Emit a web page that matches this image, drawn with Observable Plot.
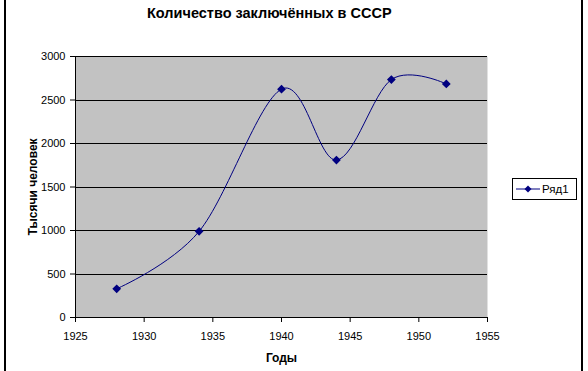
<!DOCTYPE html>
<html>
<head>
<meta charset="utf-8">
<script src="https://cdn.jsdelivr.net/npm/d3@7"></script>
<script src="https://cdn.jsdelivr.net/npm/@observablehq/plot@0.6"></script>
<style>
  html, body { margin: 0; padding: 0; background: #fff; }
  body { width: 588px; height: 371px; position: relative; overflow: hidden; font-family: "Liberation Sans", Arial, sans-serif; }
  #border { position: absolute; left: 4px; top: 0; width: 579px; height: 371px; border-left: 2px solid #000; border-right: 2px solid #000; box-sizing: border-box; pointer-events: none; }
  #title { position: absolute; left: 147px; top: 5px; width: 230px; text-align: center; white-space: nowrap; font-weight: bold; font-size: 14.5px; color: #000; }
  #chart { position: absolute; left: 0; top: 30px; }
  #legend { position: absolute; left: 512px; top: 178px; width: 65px; height: 22px; border: 1px solid #000; box-sizing: border-box; background: #fff; display: flex; align-items: center; font-size: 11.5px; }
  #legend svg { margin-left: 2px; margin-right: 1px; }
</style>
</head>
<body>
<div id="title">Количество заключённых в СССР</div>
<div id="chart"></div>
<div id="legend"><svg width="26" height="10"><line x1="1" y1="5" x2="25" y2="5" stroke="#000080" stroke-width="1"/><path d="M13,1.5L16.5,5L13,8.5L9.5,5Z" fill="#000080"/></svg><span>Ряд1</span></div>
<div id="border"></div>
<script>
const years = [1928, 1934, 1940, 1944, 1948, 1952];
const prisoners = [330, 990, 2625, 1810, 2735, 2685];
const xTicks = [1925, 1930, 1935, 1940, 1945, 1950, 1955];
const yTicks = [0, 500, 1000, 1500, 2000, 2500, 3000];
const seriesName = "Ряд1";

const data = years.map((y, i) => ({year: y, value: prisoners[i], series: seriesName}));

const navy = "#000080";
const chart = Plot.plot({
  width: 588,
  height: 341,
  marginLeft: 75,
  marginRight: 101,
  marginTop: 26,
  marginBottom: 54,
  style: {fontFamily: "'Liberation Sans', Arial, sans-serif", fontSize: "11px", color: "#000", background: "transparent"},
  x: {domain: [1925, 1955]},
  y: {domain: [0, 3000]},
  marks: [
    Plot.frame({fill: "url(#dots)", stroke: null}),
    Plot.ruleY(yTicks.slice(1), {stroke: "#000", strokeWidth: 1, shapeRendering: "crispEdges"}),
    Plot.ruleY([0], {stroke: "#000", strokeWidth: 1, shapeRendering: "crispEdges"}),
    Plot.ruleX([1925], {stroke: "#000", strokeWidth: 1, shapeRendering: "crispEdges"}),
    Plot.axisX({ticks: xTicks, tickFormat: d => String(d), tickSize: 5, tickPadding: 10, label: "Годы", labelAnchor: "center", labelArrow: "none", labelOffset: 44, fontSize: 11}),
    Plot.axisY({ticks: yTicks, tickFormat: d => String(d), tickSize: 5, tickPadding: 5, label: "Тысячи человек", labelAnchor: "center", labelArrow: "none", labelOffset: 47, fontSize: 11}),
    Plot.line(data, {x: "year", y: "value", curve: "cardinal", stroke: navy, strokeWidth: 1}),
    Plot.dot(data, {x: "year", y: "value", symbol: "diamond2", fill: navy, stroke: navy, r: 3})
  ]
});

// dotted grey pattern for the plot area
const ns = "http://www.w3.org/2000/svg";
const defs = document.createElementNS(ns, "defs");
defs.innerHTML = '<pattern id="dots" width="2" height="2" patternUnits="userSpaceOnUse"><rect width="2" height="2" fill="#cfcfcf"/><rect width="1" height="1" fill="#9c9c9c"/></pattern>';
chart.insertBefore(defs, chart.firstChild);

chart.querySelectorAll('[aria-label="x-axis label"] text, [aria-label="y-axis label"] text').forEach(t => { t.style.fontWeight = "bold"; t.style.fontSize = "12px"; });
document.getElementById("chart").appendChild(chart);
</script>
</body>
</html>
